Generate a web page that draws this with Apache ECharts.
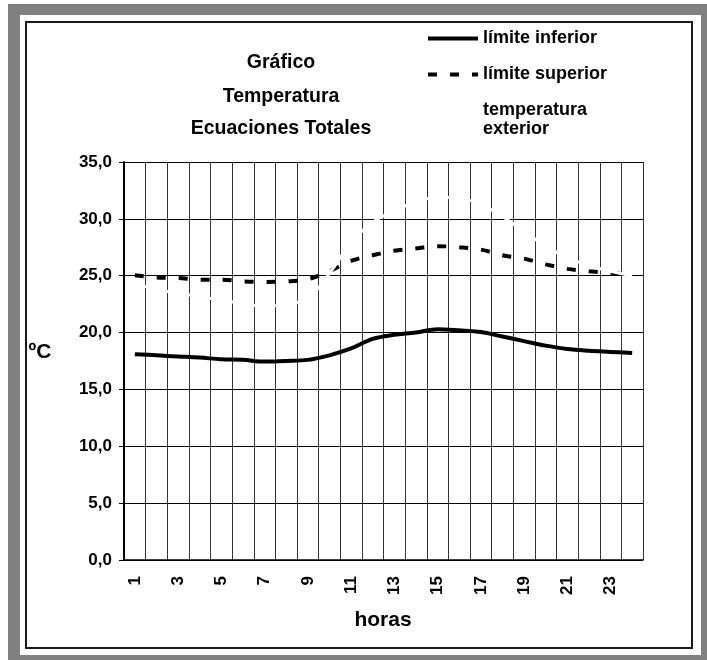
<!DOCTYPE html>
<html>
<head>
<meta charset="utf-8">
<script src="https://cdn.jsdelivr.net/npm/echarts@6/dist/echarts.min.js"></script>
<style>
html,body{margin:0;padding:0;background:#ffffff;}
#chart{width:707px;height:660px;}
</style>
</head>
<body>
<div id="chart"></div>
<script>
const hours = ['1','2','3','4','5','6','7','8','9','10','11','12','13','14','15','16','17','18','19','20','21','22','23','24'];
const limiteInferior = [18.1, 18.0, 17.9, 17.8, 17.65, 17.6, 17.45, 17.5, 17.6, 18.0, 18.6, 19.45, 19.8, 20.0, 20.3, 20.2, 20.05, 19.65, 19.25, 18.85, 18.55, 18.4, 18.3, 18.2];
const limiteSuperior = [25.05, 24.85, 24.8, 24.65, 24.65, 24.5, 24.45, 24.5, 24.7, 25.4, 26.3, 26.8, 27.2, 27.4, 27.6, 27.5, 27.3, 26.8, 26.5, 26.0, 25.6, 25.4, 25.25, 25.1];
const temperaturaExterior = [24.3, 23.8, 23.45, 23.15, 22.85, 22.55, 22.3, 22.5, 23.0, 25.2, 27.9, 29.7, 30.7, 31.5, 31.9, 31.8, 31.3, 30.2, 28.9, 27.6, 26.6, 25.9, 25.4, 25.0];
const yTickLabels = ['0,0','5,0','10,0','15,0','20,0','25,0','30,0','35,0'];
const titleLines = ['Gráfico','Temperatura','Ecuaciones Totales'];
const seriesNames = ['límite inferior','límite superior','temperatura exterior'];

const FONT = '"Liberation Sans", Arial, sans-serif';
const chart = echarts.init(document.getElementById('chart'), null, {renderer:'canvas'});

const graphics = [
  {type:'rect', z:-30, shape:{x:8,y:4,width:720,height:680}, style:{fill:'#808080'}},
  {type:'rect', z:-29, shape:{x:20,y:15,width:681,height:640}, style:{fill:'#ffffff'}},
  {type:'rect', z:-28, shape:{x:26,y:22,width:666,height:626}, style:{fill:'#ffffff', stroke:'#1a1a1a', lineWidth:2}},
  {type:'text', x:40, y:352, style:{text:'ºC', font:'bold 21px '+FONT, fill:'#000', align:'center', verticalAlign:'middle'}},
  {type:'text', x:383, y:620, style:{text:'horas', font:'bold 21px '+FONT, fill:'#000', align:'center', verticalAlign:'middle'}}
];
const titleY = [63, 97, 129];
titleLines.forEach((t,i)=>{
  graphics.push({type:'text', x:281, y:titleY[i], style:{text:t, font:'bold 19.5px '+FONT, fill:'#000', align:'center', verticalAlign:'middle'}});
});

chart.setOption({
  animation:false,
  backgroundColor:'transparent',
  textStyle:{fontFamily:FONT},
  graphic: graphics,
  legend:{
    orient:'vertical', left:426, top:29, padding:0, itemWidth:50, itemHeight:14, itemGap:17,
    selectedMode:false,
    itemStyle:{opacity:0},
    lineStyle:{width:4},
    textStyle:{fontSize:18, fontWeight:'bold', color:'#000', lineHeight:19, fontFamily:FONT},
    formatter:(n)=> n === seriesNames[2] ? 'temperatura\nexterior' : n,
    data: seriesNames
  },
  grid:{left:124, top:162, width:519, height:398, containLabel:false},
  xAxis:{
    type:'category', data:hours, boundaryGap:true,
    axisLine:{show:true, lineStyle:{color:'#000', width:1.5}},
    axisTick:{show:false},
    axisLabel:{interval:1, rotate:90, margin:16, fontSize:17, fontWeight:'bold', color:'#000', fontFamily:FONT},
    splitLine:{show:true, interval:0, lineStyle:{color:'#333', width:1}}
  },
  yAxis:{
    type:'value', min:0, max:35, interval:5,
    axisLine:{show:true, lineStyle:{color:'#000', width:2}},
    axisTick:{show:true, inside:false, length:5, lineStyle:{color:'#000', width:1}},
    axisLabel:{margin:12, fontSize:17, fontWeight:'bold', color:'#000', fontFamily:FONT,
      formatter:(v)=> yTickLabels[Math.round(v/5)]},
    splitLine:{show:true, lineStyle:{color:'#000', width:1}}
  },
  series:[
    {name:seriesNames[0], type:'line', data:limiteInferior, smooth:0.35, symbol:'none',
      lineStyle:{color:'#000', width:4}, itemStyle:{color:'#000'}},
    {name:seriesNames[1], type:'line', data:limiteSuperior, smooth:0.35, symbol:'none',
      lineStyle:{color:'#000', width:4, type:[9,13]}, itemStyle:{color:'#000'}},
    {name:seriesNames[2], type:'line', data:temperaturaExterior, smooth:0.35, symbol:'none',
      lineStyle:{color:'#ffffff', width:3}, itemStyle:{color:'#ffffff'}}
  ]
});
</script>
</body>
</html>
